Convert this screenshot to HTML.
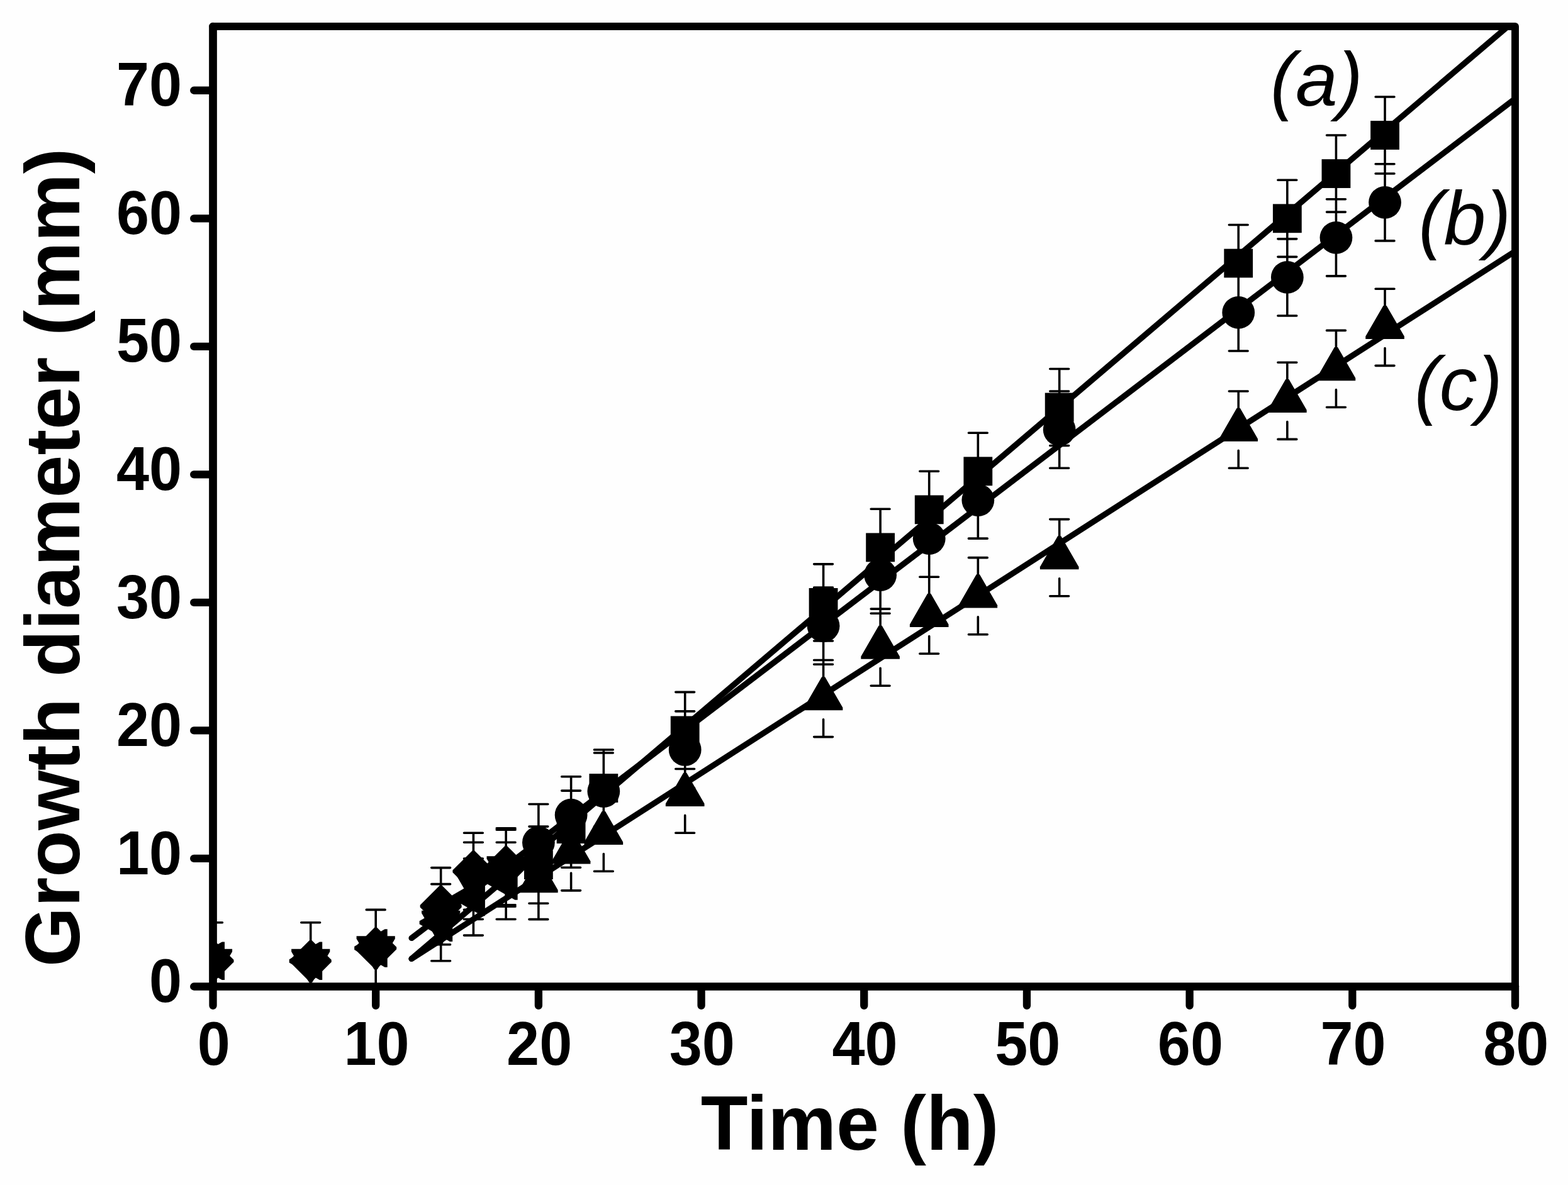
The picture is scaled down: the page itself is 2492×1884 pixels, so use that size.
<!DOCTYPE html>
<html lang="en">
<head>
<meta charset="utf-8">
<title>Growth diameter vs time</title>
<style>
html,body{margin:0;padding:0;background:#fff;}
body{width:2492px;height:1884px;overflow:hidden;}
svg{display:block;}
text{font-family:"Liberation Sans",Arial,Helvetica,sans-serif;fill:#000;}
.tk{font-weight:bold;font-size:97.5px;}
.ti{font-weight:bold;font-size:122.4px;}
.lb{font-style:italic;font-size:120px;}
</style>
</head>
<body>
<svg width="2492" height="1884" viewBox="0 0 2492 1884">
<rect x="0" y="0" width="2492" height="1884" fill="#fefefe"/>
<defs><clipPath id="pa"><rect x="338.5" y="42" width="2069.5" height="1526.5"/></clipPath></defs>

<g clip-path="url(#pa)">
<g stroke="#000" stroke-width="9.3" stroke-linecap="round" fill="none">
<line x1="654.1" y1="1524.22" x2="2511.47" y2="-55.85"/>
<line x1="654.1" y1="1491.47" x2="2511.47" y2="78.19"/>
<line x1="654.1" y1="1524.4" x2="2511.47" y2="333.08"/>
</g>
<path d="M855.88 1314.08V1436.2M840.98 1314.08H870.77M840.98 1436.2H870.77M907.61 1257.09V1379.21M892.71 1257.09H922.51M892.71 1379.21H922.51M959.35 1191.96V1314.08M944.45 1191.96H974.25M944.45 1314.08H974.25M1088.69 1100.37V1222.49M1073.79 1100.37H1103.59M1073.79 1222.49H1103.59M1308.58 896.84V1018.96M1293.68 896.84H1323.48M1293.68 1018.96H1323.48M1399.12 809.32V931.44M1384.22 809.32H1414.02M1384.22 931.44H1414.02M1476.72 749.28V871.4M1461.82 749.28H1491.62M1461.82 871.4H1491.62M1554.33 688.22V810.34M1539.43 688.22H1569.23M1539.43 810.34H1569.23M1683.67 586.45V708.57M1668.77 586.45H1698.58M1668.77 708.57H1698.58M1968.23 357.48V479.6M1953.33 357.48H1983.13M1953.33 479.6H1983.13M2045.84 286.24V408.36M2030.94 286.24H2060.74M2030.94 408.36H2060.74M2123.44 215V337.12M2108.54 215H2138.34M2108.54 337.12H2138.34M2201.05 153.94V276.06M2186.15 153.94H2215.95M2186.15 276.06H2215.95M855.88 1278.47V1400.59M840.98 1278.47H870.77M840.98 1400.59H870.77M907.61 1234.71V1356.83M892.71 1234.71H922.51M892.71 1356.83H922.51M959.35 1197.05V1319.17M944.45 1197.05H974.25M944.45 1319.17H974.25M1088.69 1130.9V1253.02M1073.79 1130.9H1103.59M1073.79 1253.02H1103.59M1308.58 934.09V1056.21M1293.68 934.09H1323.48M1293.68 1056.21H1323.48M1399.12 853.08V975.2M1384.22 853.08H1414.02M1384.22 975.2H1414.02M1476.72 795.07V917.19M1461.82 795.07H1491.62M1461.82 917.19H1491.62M1554.33 734.01V856.13M1539.43 734.01H1569.23M1539.43 856.13H1569.23M1683.67 622.07V744.19M1668.77 622.07H1698.58M1668.77 744.19H1698.58M1968.23 435.84V557.96M1953.33 435.84H1983.13M1953.33 557.96H1983.13M2045.84 379.87V501.99M2030.94 379.87H2060.74M2030.94 501.99H2060.74M2123.44 316.77V438.89M2108.54 316.77H2138.34M2108.54 438.89H2138.34M2201.05 260.8V382.92M2186.15 260.8H2215.95M2186.15 382.92H2215.95M855.88 1339.53V1400.59M855.88 1433.79V1461.64M840.98 1339.53H870.77M840.98 1461.64H870.77M907.61 1293.73V1354.79M907.61 1387.99V1415.85M892.71 1293.73H922.51M892.71 1415.85H922.51M959.35 1263.2V1324.26M959.35 1357.46V1385.32M944.45 1263.2H974.25M944.45 1385.32H974.25M1088.69 1202.14V1263.2M1088.69 1296.4V1324.26M1073.79 1202.14H1103.59M1073.79 1324.26H1103.59M1308.58 1049.49V1110.55M1308.58 1143.75V1171.61M1293.68 1049.49H1323.48M1293.68 1171.61H1323.48M1399.12 968.08V1029.14M1399.12 1062.34V1090.2M1384.22 968.08H1414.02M1384.22 1090.2H1414.02M1476.72 917.19V978.25M1476.72 1011.45V1039.31M1461.82 917.19H1491.62M1461.82 1039.31H1491.62M1554.33 886.66V947.72M1554.33 980.92V1008.78M1539.43 886.66H1569.23M1539.43 1008.78H1569.23M1683.67 825.6V886.66M1683.67 919.86V947.72M1668.77 825.6H1698.58M1668.77 947.72H1698.58M1968.23 622.07V683.13M1968.23 716.33V744.19M1953.33 622.07H1983.13M1953.33 744.19H1983.13M2045.84 576.28V637.34M2045.84 670.54V698.4M2030.94 576.28H2060.74M2030.94 698.4H2060.74M2123.44 525.39V586.45M2123.44 619.65V647.51M2108.54 525.39H2138.34M2108.54 647.51H2138.34M2201.05 459.24V520.3M2201.05 553.5V581.36M2186.15 459.24H2215.95M2186.15 581.36H2215.95M338.5 1466.73V1588.85M323.6 1466.73H353.4M323.6 1588.85H353.4M493.71 1466.73V1588.85M478.81 1466.73H508.61M478.81 1588.85H508.61M597.19 1446.38V1568.5M582.29 1446.38H612.09M582.29 1568.5H612.09M700.66 1405.67V1527.79M685.76 1405.67H715.56M685.76 1527.79H715.56M752.4 1339.32V1461.44M737.5 1339.32H767.3M737.5 1461.44H767.3M804.14 1319.17V1441.29M789.24 1319.17H819.04M789.24 1441.29H819.04M338.5 1466.73V1588.85M323.6 1466.73H353.4M323.6 1588.85H353.4M493.71 1466.73V1588.85M478.81 1466.73H508.61M478.81 1588.85H508.61M597.19 1446.38V1568.5M582.29 1446.38H612.09M582.29 1568.5H612.09M700.66 1379.62V1501.74M685.76 1379.62H715.56M685.76 1501.74H715.56M752.4 1324.26V1446.38M737.5 1324.26H767.3M737.5 1446.38H767.3M804.14 1316.73V1438.85M789.24 1316.73H819.04M789.24 1438.85H819.04M338.5 1466.73V1588.85M323.6 1466.73H353.4M323.6 1588.85H353.4M493.71 1466.73V1588.85M478.81 1466.73H508.61M478.81 1588.85H508.61M597.19 1446.38V1568.5M582.29 1446.38H612.09M582.29 1568.5H612.09M700.66 1405.67V1527.79M685.76 1405.67H715.56M685.76 1527.79H715.56M752.4 1364.97V1487.09M737.5 1364.97H767.3M737.5 1487.09H767.3M804.14 1339.32V1461.44M789.24 1339.32H819.04M789.24 1461.44H819.04" stroke="#000" stroke-width="3.6" stroke-linecap="round" fill="none"/>
<g fill="#000" stroke="none">
<rect x="832.98" y="1352.24" width="45.8" height="45.8"/>
<rect x="884.71" y="1295.25" width="45.8" height="45.8"/>
<rect x="936.45" y="1230.12" width="45.8" height="45.8"/>
<rect x="1065.79" y="1138.53" width="45.8" height="45.8"/>
<rect x="1285.68" y="935" width="45.8" height="45.8"/>
<rect x="1376.22" y="847.48" width="45.8" height="45.8"/>
<rect x="1453.82" y="787.44" width="45.8" height="45.8"/>
<rect x="1531.43" y="726.38" width="45.8" height="45.8"/>
<rect x="1660.77" y="624.61" width="45.8" height="45.8"/>
<rect x="1945.33" y="395.64" width="45.8" height="45.8"/>
<rect x="2022.94" y="324.4" width="45.8" height="45.8"/>
<rect x="2100.54" y="253.16" width="45.8" height="45.8"/>
<rect x="2178.15" y="192.1" width="45.8" height="45.8"/>
<circle cx="855.88" cy="1339.53" r="25.9"/>
<circle cx="907.61" cy="1295.77" r="25.9"/>
<circle cx="959.35" cy="1258.11" r="25.9"/>
<circle cx="1088.69" cy="1191.96" r="25.9"/>
<circle cx="1308.58" cy="995.15" r="25.9"/>
<circle cx="1399.12" cy="914.14" r="25.9"/>
<circle cx="1476.72" cy="856.13" r="25.9"/>
<circle cx="1554.33" cy="795.07" r="25.9"/>
<circle cx="1683.67" cy="683.13" r="25.9"/>
<circle cx="1968.23" cy="496.9" r="25.9"/>
<circle cx="2045.84" cy="440.93" r="25.9"/>
<circle cx="2123.44" cy="377.83" r="25.9"/>
<circle cx="2201.05" cy="321.86" r="25.9"/>
<polygon points="825.08,1419.29 825.08,1415.09 853.27,1366.18 858.48,1366.18 886.67,1415.09 886.67,1419.29"/>
<polygon points="876.81,1373.49 876.81,1369.29 905.01,1320.39 910.21,1320.39 938.41,1369.29 938.41,1373.49"/>
<polygon points="928.55,1342.96 928.55,1338.76 956.75,1289.86 961.95,1289.86 990.15,1338.76 990.15,1342.96"/>
<polygon points="1057.89,1281.9 1057.89,1277.7 1086.09,1228.8 1091.29,1228.8 1119.49,1277.7 1119.49,1281.9"/>
<polygon points="1277.78,1129.25 1277.78,1125.05 1305.98,1076.15 1311.18,1076.15 1339.38,1125.05 1339.38,1129.25"/>
<polygon points="1368.32,1047.84 1368.32,1043.64 1396.52,994.74 1401.72,994.74 1429.92,1043.64 1429.92,1047.84"/>
<polygon points="1445.92,996.95 1445.92,992.75 1474.12,943.85 1479.32,943.85 1507.52,992.75 1507.52,996.95"/>
<polygon points="1523.53,966.42 1523.53,962.22 1551.73,913.32 1556.93,913.32 1585.13,962.22 1585.13,966.42"/>
<polygon points="1652.88,905.36 1652.88,901.16 1681.08,852.26 1686.27,852.26 1714.47,901.16 1714.47,905.36"/>
<polygon points="1937.43,701.83 1937.43,697.63 1965.63,648.73 1970.83,648.73 1999.03,697.63 1999.03,701.83"/>
<polygon points="2015.04,656.04 2015.04,651.84 2043.24,602.94 2048.44,602.94 2076.64,651.84 2076.64,656.04"/>
<polygon points="2092.64,605.15 2092.64,600.95 2120.84,552.05 2126.04,552.05 2154.24,600.95 2154.24,605.15"/>
<polygon points="2170.25,539 2170.25,534.8 2198.45,485.9 2203.65,485.9 2231.85,534.8 2231.85,539"/>
<polygon points="307.9,1508.69 369.1,1508.69 369.1,1512.89 341.1,1561.69 335.9,1561.69 307.9,1512.89"/>
<polygon points="463.11,1508.69 524.31,1508.69 524.31,1512.89 496.31,1561.69 491.11,1561.69 463.11,1512.89"/>
<polygon points="566.59,1488.34 627.79,1488.34 627.79,1492.54 599.79,1541.34 594.59,1541.34 566.59,1492.54"/>
<polygon points="670.06,1447.63 731.26,1447.63 731.26,1451.83 703.26,1500.63 698.06,1500.63 670.06,1451.83"/>
<polygon points="721.8,1381.28 783,1381.28 783,1385.48 755,1434.28 749.8,1434.28 721.8,1385.48"/>
<polygon points="773.54,1361.13 834.74,1361.13 834.74,1365.33 806.74,1414.13 801.54,1414.13 773.54,1365.33"/>
<polygon points="336.7,1494.89 340.3,1494.89 371.5,1525.99 371.5,1529.59 340.3,1560.69 336.7,1560.69 305.5,1529.59 305.5,1525.99"/>
<polygon points="491.91,1494.89 495.51,1494.89 526.71,1525.99 526.71,1529.59 495.51,1560.69 491.91,1560.69 460.71,1529.59 460.71,1525.99"/>
<polygon points="595.39,1474.54 598.99,1474.54 630.19,1505.64 630.19,1509.24 598.99,1540.34 595.39,1540.34 564.19,1509.24 564.19,1505.64"/>
<polygon points="698.86,1407.78 702.46,1407.78 733.66,1438.88 733.66,1442.48 702.46,1473.58 698.86,1473.58 667.66,1442.48 667.66,1438.88"/>
<polygon points="750.6,1352.42 754.2,1352.42 785.4,1383.52 785.4,1387.12 754.2,1418.22 750.6,1418.22 719.4,1387.12 719.4,1383.52"/>
<polygon points="802.34,1344.89 805.94,1344.89 837.14,1375.99 837.14,1379.59 805.94,1410.69 802.34,1410.69 771.14,1379.59 771.14,1375.99"/>
<polygon points="357,1497.49 357,1558.09 352.8,1558.09 304.5,1530.39 304.5,1525.19 352.8,1497.49"/>
<polygon points="512.21,1497.49 512.21,1558.09 508.01,1558.09 459.71,1530.39 459.71,1525.19 508.01,1497.49"/>
<polygon points="615.69,1477.14 615.69,1537.74 611.49,1537.74 563.19,1510.04 563.19,1504.84 611.49,1477.14"/>
<polygon points="719.16,1436.43 719.16,1497.03 714.96,1497.03 666.66,1469.33 666.66,1464.13 714.96,1436.43"/>
<polygon points="770.9,1395.73 770.9,1456.33 766.7,1456.33 718.4,1428.63 718.4,1423.43 766.7,1395.73"/>
<polygon points="822.64,1370.08 822.64,1430.68 818.44,1430.68 770.14,1402.98 770.14,1397.78 818.44,1370.08"/>
</g>
</g>
<g stroke="#000" fill="none" stroke-linecap="round" stroke-linejoin="round">
<path stroke-width="11.9" d="M338.5 42H2408V1568.5"/>
<path stroke-width="12.7" d="M338.5 42V1568.5H2408"/>
<path stroke-width="12.3" d="M338.5 1570.5V1598.8M597.19 1570.5V1598.8M855.88 1570.5V1598.8M1114.56 1570.5V1598.8M1373.25 1570.5V1598.8M1631.94 1570.5V1598.8M1890.62 1570.5V1598.8M2149.31 1570.5V1598.8M2408 1570.5V1598.8M336.5 1568.5H308.2M336.5 1364.97H308.2M336.5 1161.43H308.2M336.5 957.9H308.2M336.5 754.37H308.2M336.5 550.83H308.2M336.5 347.3H308.2M336.5 143.77H308.2"/>
</g>
<g class="tk" text-anchor="middle">
<text transform="translate(339.8 1693) scale(0.96 1)">0</text>
<text transform="translate(598.49 1693) scale(0.96 1)">10</text>
<text transform="translate(857.17 1693) scale(0.96 1)">20</text>
<text transform="translate(1115.86 1693) scale(0.96 1)">30</text>
<text transform="translate(1374.55 1693) scale(0.96 1)">40</text>
<text transform="translate(1633.24 1693) scale(0.96 1)">50</text>
<text transform="translate(1891.92 1693) scale(0.96 1)">60</text>
<text transform="translate(2150.61 1693) scale(0.96 1)">70</text>
<text transform="translate(2409.3 1693) scale(0.96 1)">80</text>
</g>
<g class="tk" text-anchor="end">
<text transform="translate(289 1593.1) scale(0.96 1)">0</text>
<text transform="translate(289 1389.57) scale(0.96 1)">10</text>
<text transform="translate(289 1186.03) scale(0.96 1)">20</text>
<text transform="translate(289 982.5) scale(0.96 1)">30</text>
<text transform="translate(289 778.97) scale(0.96 1)">40</text>
<text transform="translate(289 575.43) scale(0.96 1)">50</text>
<text transform="translate(289 371.9) scale(0.96 1)">60</text>
<text transform="translate(289 168.37) scale(0.96 1)">70</text>
</g>
<text class="ti" x="1113.7" y="1827.8">Time (h)</text>
<text class="ti" style="font-size:122px" transform="translate(125.6 1537) rotate(-90)">Growth diameter (mm)</text>
<text class="lb" x="2019.1" y="168.1">(a)</text>
<text class="lb" x="2254.6" y="388.8">(b)</text>
<text class="lb" x="2247.9" y="651.7">(c)</text>
</svg>
</body>
</html>
